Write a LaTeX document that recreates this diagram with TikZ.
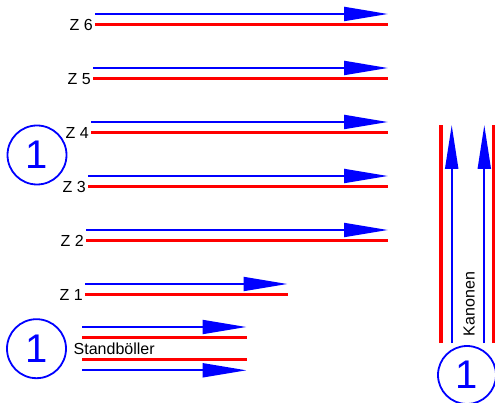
\documentclass[tikz,border=0pt]{standalone}
\usepackage{fontspec}
\setmainfont{Liberation Sans}
\usetikzlibrary{arrows.meta}
\begin{document}
\begin{tikzpicture}[x=1pt,y=-1pt,
  blueline/.style={draw=blue, line width=2pt, -{Triangle[length=44pt,width=14pt]}},
  blueup/.style={draw=blue, line width=2pt, -{Triangle[length=44pt,width=13pt]}},
  redline/.style={draw=red, line width=3.5pt},
  lbl/.style={font=\fontsize{16}{18}\selectfont, inner sep=0pt},
  numcircle/.style={circle, draw=blue, line width=1.8pt, minimum size=59pt, inner sep=0pt, text=blue, font=\fontsize{40}{44}\selectfont}]
\useasboundingbox (0,0) rectangle (495,403);

% Z rows: name/blue y/red y/start x/end x
\foreach \n/\yb/\yr/\xs/\xe in {6/14/24.7/95/388, 5/68/78.7/93/388, 4/122/132.7/91/388, 3/176/186.7/88/388, 2/230/240.7/86/388, 1/284/294.7/85/287.5}{
  \coordinate (bs\n) at (\xs,\yb);
  \coordinate (be\n) at (\xe,\yb);
  \coordinate (rs\n) at (\xs,\yr);
  \coordinate (re\n) at (\xe,\yr);
  \draw[blueline] (bs\n) -- (be\n);
  \draw[redline] (rs\n) -- (re\n);
  \node[lbl, anchor=east] (z\n) at ([xshift=-2pt]rs\n) {Z \n};
}

% Standböller
\coordinate (sb1s) at (82,327);   \coordinate (sb1e) at (246.5,327);
\coordinate (sr1s) at (82,337.7); \coordinate (sr1e) at (246.5,337.7);
\coordinate (sr2s) at (82,359.3); \coordinate (sr2e) at (246.5,359.3);
\coordinate (sb2s) at (82,370.3); \coordinate (sb2e) at (246.5,370.3);
\draw[blueline] (sb1s) -- (sb1e);
\draw[redline] (sr1s) -- (sr1e);
\draw[redline] (sr2s) -- (sr2e);
\draw[blueline] (sb2s) -- (sb2e);
\node[lbl, anchor=west] (stand) at (73.5,349) {Standböller};

% Kanonen
\coordinate (kr1b) at (441,343);   \coordinate (kr1t) at (441,125);
\coordinate (kb1b) at (451.7,343); \coordinate (kb1t) at (451.7,125);
\coordinate (kb2b) at (484.3,343); \coordinate (kb2t) at (484.3,125);
\coordinate (kr2b) at (493.5,343); \coordinate (kr2t) at (493.5,125);
\draw[redline] (kr1b) -- (kr1t);
\draw[blueup] (kb1b) -- (kb1t);
\draw[blueup] (kb2b) -- (kb2t);
\draw[redline] (kr2b) -- (kr2t);
\node[lbl, rotate=90] (kan) at (469.3,304) {Kanonen};

% circles
\node[numcircle] (c1) at (37,155) {1};
\node[numcircle] (c2) at (36.5,348.7) {1};
\node[numcircle, minimum size=58pt] (c3) at (467,375) {1};
\end{tikzpicture}
\end{document}
